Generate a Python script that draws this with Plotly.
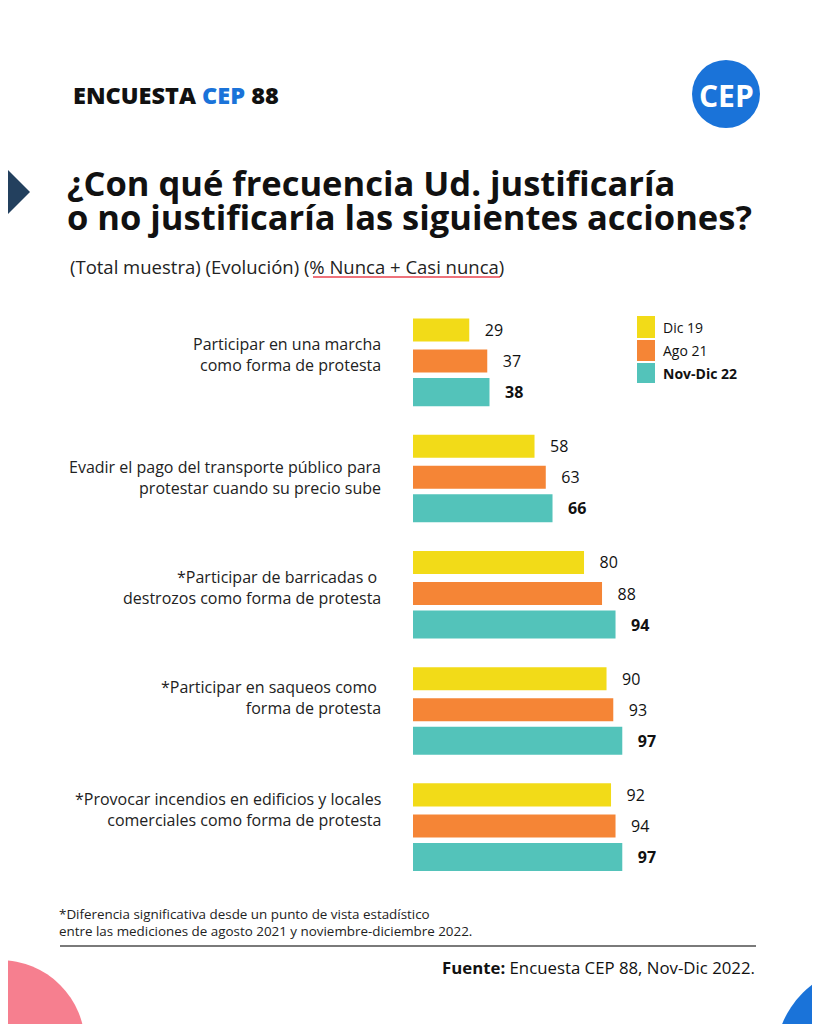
import plotly.graph_objects as go

# ---------------- data ----------------
categories = [
    "Participar en una marcha<br>como forma de protesta",
    "Evadir el pago del transporte público para<br>protestar cuando su precio sube",
    "*Participar de barricadas o <br>destrozos como forma de protesta",
    "*Participar en saqueos como <br>forma de protesta",
    "*Provocar incendios en edificios y locales<br>comerciales como forma de protesta",
]
series_names = ["Dic 19", "Ago 21", "Nov-Dic 22"]
dic19 = [29, 58, 80, 90, 92]
ago21 = [37, 63, 88, 93, 94]
novdic22 = [38, 66, 94, 97, 97]

# ---------------- style ----------------
W, H = 820, 1024
OFF = 8  # page body margin
FONT = "Open Sans"
YELLOW = "#F2DB18"
ORANGE = "#F58536"
TEAL = "#53C3BA"
BLUE = "#1A73D9"
TXT = "#111111"


def X(px):
    return (px - OFF) / W


def Y(py):
    return 1 - (py - OFF) / H


series = [
    (series_names[0], dic19, YELLOW, -0.267, 0.198, False),
    (series_names[1], ago21, ORANGE, 0.0, 0.198, False),
    (series_names[2], novdic22, TEAL, 0.267, 0.241, True),
]

fig = go.Figure()
NB = "\u00a0"
for name, vals, col, off, wd, bold in series:
    ys = [i + off for i in range(len(categories))]
    fig.add_trace(go.Bar(
        orientation="h",
        x=vals,
        y=ys,
        width=wd,
        name=name,
        marker=dict(color=col, line=dict(width=0)),
        text=[(NB * 3) + (f"<b>{v}</b>" if bold else str(v)) for v in vals],
        textposition="outside",
        constraintext="none",
        cliponaxis=False,
        textfont=dict(family=FONT, size=16, color="#111111"),
        showlegend=False,
        hoverinfo="skip",
    ))

annotations = []
shapes = []

# category labels
label_shift = [7, 0, 6, 12, 16]
for i, lab in enumerate(categories):
    annotations.append(dict(
        text=lab, xref="paper", yref="y", x=X(383), y=i, yshift=label_shift[i],
        xanchor="right", yanchor="middle", align="right", showarrow=False,
        font=dict(family=FONT, size=16, color="#222222"),
    ))

# legend (manual)
leg_rows = [(316, 338, 327), (340, 361, 350), (363, 383, 373)]
for (y0, y1, yc), (name, _, col, _, _, bold) in zip(leg_rows, series):
    shapes.append(dict(type="rect", xref="paper", yref="paper",
                       x0=X(637), x1=X(655), y0=Y(y1), y1=Y(y0),
                       fillcolor=col, line=dict(width=0)))
    annotations.append(dict(
        text=f"<b>{name}</b>" if bold else name, xref="paper", yref="paper",
        x=X(661), y=Y(yc), xanchor="left", yanchor="middle", showarrow=False,
        font=dict(family=FONT, size=14, color="#111111"),
    ))

# header
annotations.append(dict(
    text=f"ENCUESTA <span style='color:{BLUE}'>CEP</span> 88",
    xref="paper", yref="paper", x=X(71), y=Y(95), xanchor="left", yanchor="middle",
    showarrow=False, font=dict(family=FONT, size=23.5, color=TXT, weight=800),
))
# CEP logo
shapes.append(dict(type="circle", xref="paper", yref="paper",
                   x0=X(692), x1=X(760), y0=Y(128), y1=Y(60),
                   fillcolor=BLUE, line=dict(width=0)))
annotations.append(dict(
    text="<b>CEP</b>", xref="paper", yref="paper", x=X(726), y=Y(95),
    xanchor="center", yanchor="middle", showarrow=False,
    font=dict(family=FONT, size=30, color="white"),
))
# left chevron
shapes.append(dict(type="path", xref="paper", yref="paper",
                   path=f"M {X(0)},{Y(162)} L {X(30)},{Y(192)} L {X(0)},{Y(222)} Z",
                   fillcolor="#23405E", line=dict(width=0)))
# title
for txt, yc in [("¿Con qué frecuencia Ud. justificaría", 182),
                ("o no justificaría las siguientes acciones?", 216)]:
    annotations.append(dict(
        text=txt, xref="paper", yref="paper", x=X(65), y=Y(yc),
        xanchor="left", yanchor="middle", showarrow=False,
        font=dict(family=FONT, size=34.5, color=TXT, weight=700),
    ))
# subtitle
annotations.append(dict(
    text="(Total muestra) (Evolución) (% Nunca + Casi nunca)",
    xref="paper", yref="paper", x=X(68), y=Y(266), xanchor="left", yanchor="middle",
    showarrow=False, font=dict(family=FONT, size=18.5, color="#222222"),
))
shapes.append(dict(type="line", xref="paper", yref="paper",
                   x0=X(313), x1=X(500), y0=Y(277), y1=Y(277),
                   line=dict(color="#E8434F", width=1.5)))

# footnote
annotations.append(dict(
    text="*Diferencia significativa desde un punto de vista estadístico<br>"
         "entre las mediciones de agosto 2021 y noviembre-diciembre 2022.",
    xref="paper", yref="paper", x=X(57), y=Y(922), xanchor="left", yanchor="middle",
    align="left", showarrow=False, font=dict(family=FONT, size=13.4, color="#222222"),
))
shapes.append(dict(type="line", xref="paper", yref="paper",
                   x0=X(60), x1=X(756), y0=Y(946), y1=Y(946),
                   line=dict(color="#7A7A7A", width=2)))
annotations.append(dict(
    text="<b>Fuente:</b> Encuesta CEP 88, Nov-Dic 2022.",
    xref="paper", yref="paper", x=X(757), y=Y(967), xanchor="right", yanchor="middle",
    showarrow=False, font=dict(family=FONT, size=16.8, color="#111111"),
))

# decorative corner circles
shapes.append(dict(type="circle", xref="paper", yref="paper",
                   x0=X(-85), x1=X(85), y0=Y(1130), y1=Y(960),
                   fillcolor="#F67F8F", line=dict(width=0), layer="below"))
shapes.append(dict(type="circle", xref="paper", yref="paper",
                   x0=X(775), x1=X(965), y0=Y(1155), y1=Y(965),
                   fillcolor=BLUE, line=dict(width=0), layer="below"))

fig.update_layout(
    width=W, height=H,
    margin=dict(l=0, r=0, t=0, b=0, pad=0),
    paper_bgcolor="white", plot_bgcolor="rgba(0,0,0,0)",
    barmode="overlay",
    font=dict(family=FONT),
    xaxis=dict(domain=[X(413), X(760)], range=[4, 158.2], visible=False,
               showgrid=False, zeroline=False),
    yaxis=dict(domain=[Y(884), Y(303)], range=[4.5, -0.5], visible=False,
               showgrid=False, zeroline=False),
    annotations=annotations,
    shapes=shapes,
    showlegend=False,
)

fig.write_html("out.html")
